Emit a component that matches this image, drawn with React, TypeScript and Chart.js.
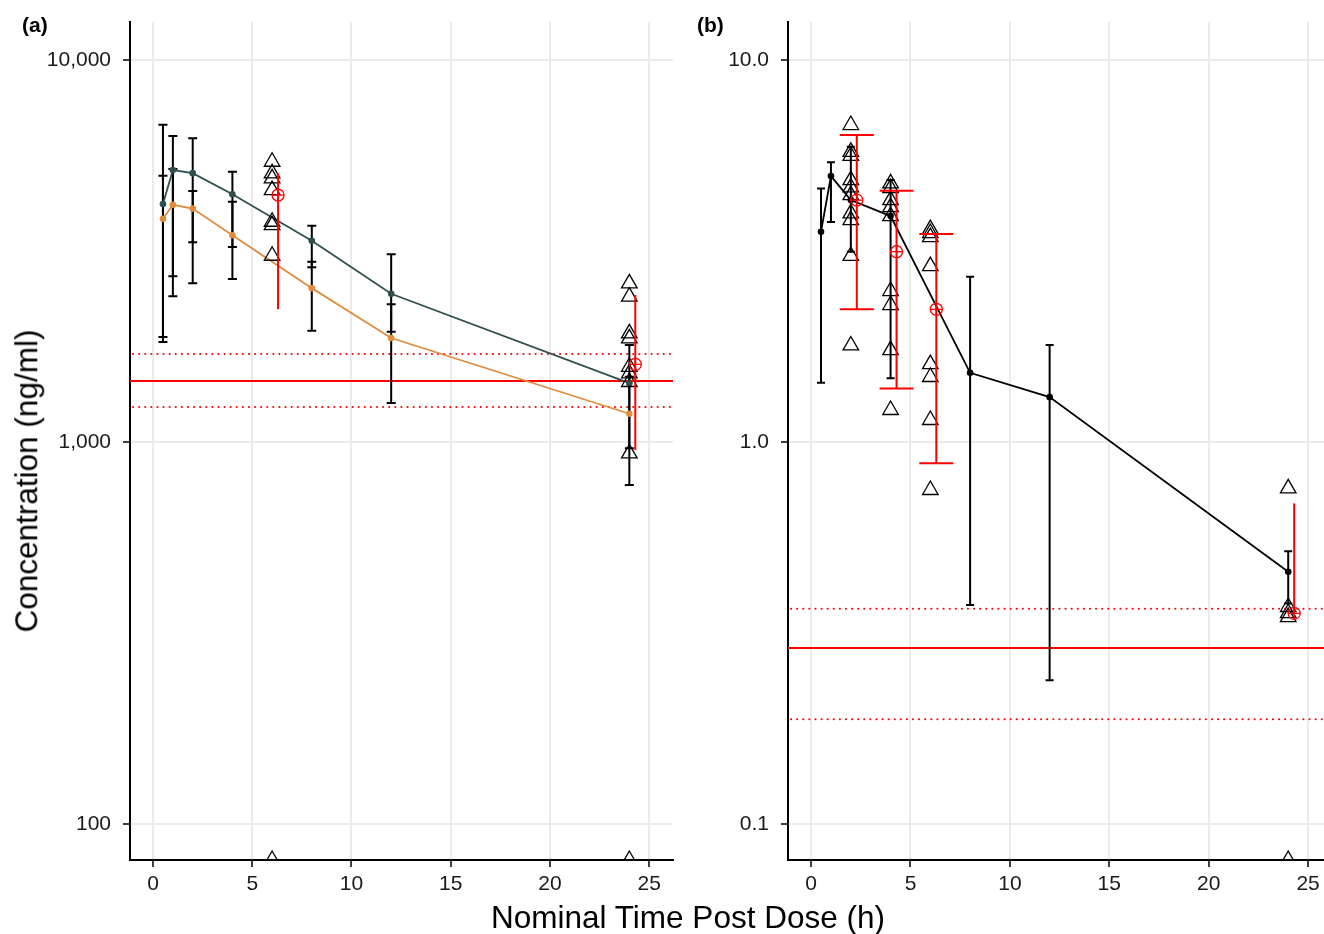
import React, { useEffect, useRef } from 'react';
import { Chart, registerables } from 'chart.js';

Chart.register(...registerables);

const FONT = '"Liberation Sans", Arial, Helvetica, sans-serif';

// ---------- shared axis ticks ----------
const xTickVals = [0, 5, 10, 15, 20, 25];
const yTickValsA = [100, 1000, 10000];
const yTickLabelsA = ['100', '1,000', '10,000'];
const yTickValsB = [0.1, 1, 10];
const yTickLabelsB = ['0.1', '1.0', '10.0'];

// ---------- panel (a) ----------
const timeA = [0.5, 1, 2, 4, 8, 12, 24];
const predDarkA = [4198, 5152, 5058, 4455, 3366, 2444, 1426];
const darkLoA = [1884, 2717, 3333, 3239, 2867, 1944, 963];
const darkHiA = [6770, 6324, 6240, 5103, 3684, 3104, 1795];
const predOrangeA = [3842, 4180, 4085, 3478, 2529, 1872, 1186];
const orangeLoA = [1828, 2407, 2604, 2671, 1955, 1265, 772];
const orangeHiA = [4977, 5185, 4540, 4258, 2965, 2294, 1483];

const obsTimeA = [6.3, 24.3];
const obsMeanA = [4432, 1597];
const obsLoA = [2228, 953];
const obsHiA = [5050, 2427];

const indivTimeA = [6, 6, 6, 6, 6, 6, 6, 6, 24, 24, 24, 24, 24, 24, 24, 24, 24];
const indivConcA = [5417, 5051, 4901, 4567, 3773, 3699, 3074, 80.5, 2603, 2402, 1926, 1868, 1574, 1513, 1436, 934, 80.5];

const refSolidA = [1444];
const refDottedA = [1700, 1235];

// ---------- panel (b) ----------
const timeB = [0.5, 1, 2, 4, 8, 12, 24];
const meanB = [3.553, 4.97, 4.3, 3.905, 1.518, 1.311, 0.4575];
const loB = [1.43, 3.77, 3.15, 1.468, 0.3745, 0.238, 0.378];
const hiB = [4.61, 5.4, 5.93, 4.85, 2.71, 1.795, 0.518];

const obsTimeB = [2.3, 4.3, 6.3, 24.3];
const obsMeanB = [4.3, 3.15, 2.226, 0.356];
const obsLoB = [2.226, 1.382, 0.8794, 0.356];
const obsHiB = [6.365, 4.55, 3.503, 0.691];
const obsCapB = [true, true, true, false];

const indivTimeB = [
  2, 2, 2, 2, 2, 2, 2, 2, 2, 2,
  4, 4, 4, 4, 4, 4, 4, 4, 4,
  6, 6, 6, 6, 6, 6, 6, 6,
  24, 24, 24, 24, 24,
];
const indivConcB = [
  6.76, 5.75, 5.61, 4.85, 4.64, 4.43, 3.97, 3.81, 3.07, 1.79,
  4.755, 4.62, 4.3, 4.12, 3.905, 2.485, 2.284, 1.741, 1.213,
  3.61, 3.525, 3.44, 2.888, 1.6, 1.48, 1.142, 0.749,
  0.7566, 0.37, 0.3566, 0.3482, 0.0805,
];

const refSolidB = [0.289];
const refDottedB = [0.366, 0.188];

// ---------- helpers ----------
type Bar = { x: number; lo: number; hi: number; color: string; cap: number; width: number };

const pts = (xs: number[], ys: number[]) => xs.map((x, i) => ({ x, y: ys[i] }));

interface PanelSpec {
  width: number;
  yAxisWidth: number;
  padRight: number;
  xMin: number;
  xMax: number;
  yMin: number;
  yMax: number;
  yTicks: number[];
  yLabels: string[];
  datasets: any[];
  barsUnder: Bar[];
  barsOver: Bar[];
  refSolid: number[];
  refDotted: number[];
}

function triangles(xs: number[], ys: number[]) {
  return {
    data: pts(xs, ys),
    pointStyle: 'triangle',
    pointRadius: 9,
    pointBorderWidth: 1.3,
    pointBorderColor: '#000',
    pointBackgroundColor: 'rgba(0,0,0,0)',
    showLine: false,
  };
}

function redObs(xs: number[], ys: number[]) {
  return [
    {
      data: pts(xs, ys),
      pointStyle: 'cross',
      pointRadius: 6,
      pointBorderWidth: 1.3,
      pointBorderColor: '#ff0000',
      pointBackgroundColor: 'rgba(0,0,0,0)',
      showLine: false,
    },
    {
      data: pts(xs, ys),
      pointStyle: 'circle',
      pointRadius: 6,
      pointBorderWidth: 1.3,
      pointBorderColor: '#ff0000',
      pointBackgroundColor: 'rgba(0,0,0,0)',
      showLine: false,
    },
  ];
}

function modelLine(xs: number[], ys: number[], color: string) {
  return {
    data: pts(xs, ys),
    showLine: true,
    borderColor: color,
    borderWidth: 1.8,
    pointRadius: 3.3,
    pointBackgroundColor: color,
    pointBorderColor: color,
    pointBorderWidth: 0,
  };
}

const bars = (xs: number[], lo: number[], hi: number[], color: string, cap: number | boolean[], capSize = 17): Bar[] =>
  xs.map((x, i) => ({
    x,
    lo: lo[i],
    hi: hi[i],
    color,
    cap: Array.isArray(cap) ? (cap[i] ? capSize : 0) : cap,
    width: 2,
  }));

const panelA: PanelSpec = {
  width: 680,
  yAxisWidth: 130,
  padRight: 7,
  xMin: -1.16,
  xMax: 26.2,
  yMin: 80.5,
  yMax: 12580,
  yTicks: yTickValsA,
  yLabels: yTickLabelsA,
  datasets: [
    ...redObs(obsTimeA, obsMeanA),
    triangles(indivTimeA, indivConcA),
    modelLine(timeA, predDarkA, '#2F4F4F'),
    modelLine(timeA, predOrangeA, '#E08C3E'),
  ],
  barsUnder: [
    ...bars(timeA, darkLoA, darkHiA, '#000', 4.5),
    ...bars(timeA, orangeLoA, orangeHiA, '#000', 4.5),
  ],
  barsOver: bars(obsTimeA, obsLoA, obsHiA, '#ff0000', 0),
  refSolid: refSolidA,
  refDotted: refDottedA,
};

const panelB: PanelSpec = {
  width: 644,
  yAxisWidth: 108,
  padRight: 0,
  xMin: -1.16,
  xMax: 25.8,
  yMin: 0.0805,
  yMax: 12.58,
  yTicks: yTickValsB,
  yLabels: yTickLabelsB,
  datasets: [
    ...redObs(obsTimeB, obsMeanB),
    triangles(indivTimeB, indivConcB),
    modelLine(timeB, meanB, '#000'),
  ],
  barsUnder: bars(timeB, loB, hiB, '#000', 4),
  barsOver: bars(obsTimeB, obsLoB, obsHiB, '#ff0000', obsCapB, 17),
  refSolid: refSolidB,
  refDotted: refDottedB,
};

function drawBars(chart: any, list: Bar[]) {
  const { ctx, chartArea: ca, scales } = chart;
  const xs = scales.x;
  const ys = scales.y;
  ctx.save();
  ctx.beginPath();
  ctx.rect(ca.left, ca.top, ca.right - ca.left, ca.bottom - ca.top);
  ctx.clip();
  for (const b of list) {
    const px = xs.getPixelForValue(b.x);
    const p1 = ys.getPixelForValue(b.lo);
    const p2 = ys.getPixelForValue(b.hi);
    ctx.strokeStyle = b.color;
    ctx.lineWidth = b.width;
    ctx.beginPath();
    ctx.moveTo(px, p1);
    ctx.lineTo(px, p2);
    if (b.cap > 0) {
      ctx.moveTo(px - b.cap, p1);
      ctx.lineTo(px + b.cap, p1);
      ctx.moveTo(px - b.cap, p2);
      ctx.lineTo(px + b.cap, p2);
    }
    ctx.stroke();
  }
  ctx.restore();
}

function drawRefs(chart: any, solid: number[], dotted: number[]) {
  const { ctx, chartArea: ca, scales } = chart;
  const ys = scales.y;
  ctx.save();
  ctx.strokeStyle = '#ff0000';
  for (const v of solid) {
    const py = ys.getPixelForValue(v);
    ctx.lineWidth = 2;
    ctx.setLineDash([]);
    ctx.beginPath();
    ctx.moveTo(ca.left, py);
    ctx.lineTo(ca.right, py);
    ctx.stroke();
  }
  for (const v of dotted) {
    const py = ys.getPixelForValue(v);
    ctx.lineWidth = 2;
    ctx.lineCap = 'round';
    ctx.setLineDash([0.1, 6]);
    ctx.beginPath();
    ctx.moveTo(ca.left + 3, py);
    ctx.lineTo(ca.right, py);
    ctx.stroke();
  }
  ctx.restore();
}

function buildConfig(p: PanelSpec): any {
  const plugin = {
    id: 'overlay',
    beforeDatasetsDraw(chart: any) {
      drawRefs(chart, p.refSolid, p.refDotted);
      drawBars(chart, p.barsUnder);
    },
    afterDatasetsDraw(chart: any) {
      drawBars(chart, p.barsOver);
    },
  };
  const tickFont = { family: FONT, size: 21 };
  return {
    type: 'scatter',
    data: { datasets: p.datasets },
    plugins: [plugin],
    options: {
      animation: false,
      responsive: false,
      maintainAspectRatio: false,
      layout: { autoPadding: false, padding: { left: 0, right: p.padRight, top: 22, bottom: 0 } },
      plugins: { legend: { display: false }, tooltip: { enabled: false } },
      scales: {
        x: {
          type: 'linear',
          min: p.xMin,
          max: p.xMax,
          afterBuildTicks: (s: any) => {
            s.ticks = xTickVals.map((v) => ({ value: v }));
          },
          afterFit: (s: any) => {
            s.height = 74;
            s.paddingLeft = 0;
            s.paddingRight = 0;
          },
          ticks: {
            font: tickFont,
            color: '#1a1a1a',
            padding: 5,
            maxRotation: 0,
            autoSkip: false,
            callback: (v: any) => String(v),
          },
          grid: { color: '#ebebeb', lineWidth: 2, tickColor: '#000', tickLength: 7, tickWidth: 1.5 },
          border: { color: '#000', width: 2 },
        },
        y: {
          type: 'logarithmic',
          min: p.yMin,
          max: p.yMax,
          afterBuildTicks: (s: any) => {
            s.ticks = p.yTicks.map((v) => ({ value: v }));
          },
          afterFit: (s: any) => {
            s.width = p.yAxisWidth;
            s.paddingTop = 0;
            s.paddingBottom = 0;
          },
          ticks: {
            font: tickFont,
            color: '#1a1a1a',
            padding: 12,
            autoSkip: false,
            callback: (_v: any, i: number) => p.yLabels[i],
          },
          grid: { color: '#ebebeb', lineWidth: 2, tickColor: '#000', tickLength: 7, tickWidth: 1.5 },
          border: { color: '#000', width: 2 },
        },
      },
    },
  };
}

function Panel({ spec, left }: { spec: PanelSpec; left: number }) {
  const ref = useRef<HTMLCanvasElement | null>(null);
  useEffect(() => {
    if (!ref.current) return;
    const chart = new Chart(ref.current, buildConfig(spec));
    return () => chart.destroy();
  }, [spec]);
  return (
    <canvas
      ref={ref}
      width={spec.width}
      height={934}
      style={{ position: 'absolute', left, top: 0, width: spec.width, height: 934 }}
    />
  );
}

export default function App() {
  const text: React.CSSProperties = {
    position: 'absolute',
    fontFamily: FONT,
    color: '#000',
    lineHeight: 1,
    whiteSpace: 'nowrap',
  };
  return (
    <div style={{ position: 'absolute', left: 0, top: 0, width: 1324, height: 934, background: '#fff', overflow: 'hidden' }}>
      <Panel spec={panelA} left={0} />
      <Panel spec={panelB} left={680} />
      <div style={{ ...text, left: 22, top: 14, fontSize: 21, fontWeight: 'bold' }}>(a)</div>
      <div style={{ ...text, left: 697, top: 14, fontSize: 21, fontWeight: 'bold' }}>(b)</div>
      <div
        style={{
          ...text,
          left: 27,
          top: 481,
          fontSize: 31.5,
          transform: 'translate(-50%, -50%) rotate(-90deg)',
        }}
      >
        Concentration (ng/ml)
      </div>
      <div style={{ ...text, left: 688, top: 918, fontSize: 31.5, transform: 'translate(-50%, -50%)' }}>
        Nominal Time Post Dose (h)
      </div>
    </div>
  );
}
